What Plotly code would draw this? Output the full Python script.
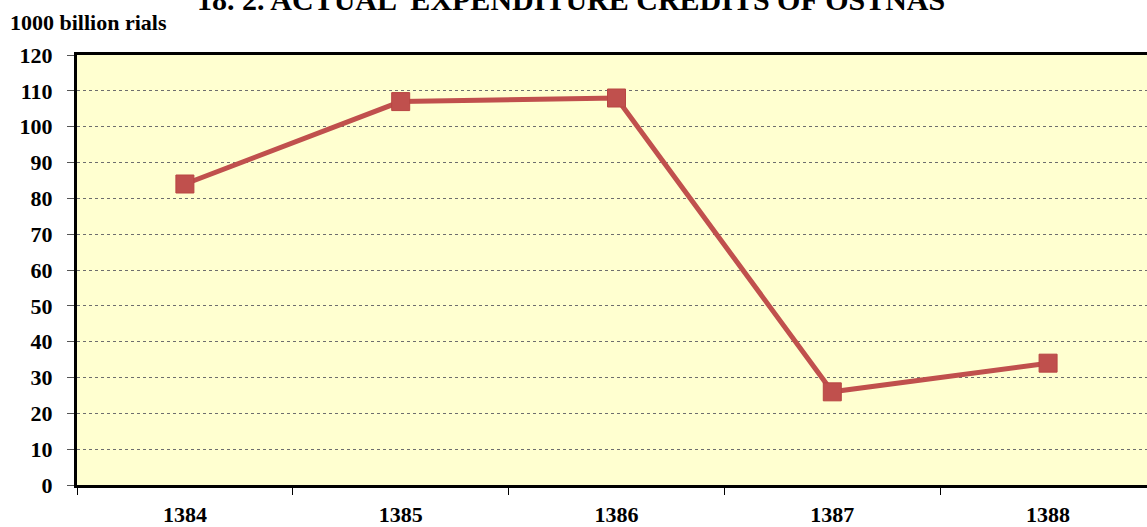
import plotly.graph_objects as go

years = ["1384", "1385", "1386", "1387", "1388"]
credits = [84, 107, 108, 26, 34]
y_ticks = list(range(0, 121, 10))

title_text = "18. 2. ACTUAL  EXPENDITURE CREDITS OF OSTNAS"
unit_text = "1000 billion rials"

serif = "Liberation Serif, Times New Roman, serif"

fig = go.Figure()
fig.add_trace(go.Scatter(
    x=years, y=credits, mode="lines+markers",
    line=dict(color="#C0504D", width=5),
    marker=dict(symbol="square", size=18, color="#C0504D",
                line=dict(color="#B84643", width=1)),
    showlegend=False, cliponaxis=False,
))

W, H = 1147, 527
ml, mt, mb = 77, 55, 40
fig.update_layout(
    width=W, height=H,
    margin=dict(l=ml, r=0, t=mt, b=mb, pad=0),
    paper_bgcolor="white",
    plot_bgcolor="#FFFFD0",
    font=dict(family=serif, color="black"),
)
fig.update_xaxes(
    type="category",
    range=[-0.5, 4.5 - 9 / 216],
    showline=True, linecolor="black", linewidth=3, mirror=True,
    ticks="outside", tickson="boundaries", ticklen=7, tickcolor="black", tickwidth=1,
    tickfont=dict(family=serif, size=22, color="black", weight="bold"),
    ticklabelstandoff=8,
    showgrid=False, zeroline=False,
)
fig.update_yaxes(
    range=[0, 120],
    tickvals=y_ticks, ticktext=[str(v) for v in y_ticks],
    showline=True, linecolor="black", linewidth=3, mirror=False,
    ticks="outside", ticklen=7, tickcolor="#555555", tickwidth=1,
    ticklabelposition="outside", ticklabelstandoff=10,
    tickfont=dict(family=serif, size=22, color="black", weight="bold"),
    showgrid=True, gridcolor="#6E6E6E", griddash="dot", gridwidth=1,
    zeroline=False,
)

plot_h = H - mt - mb
plot_w = W - ml
fig.add_annotation(
    text=title_text, xref="paper", yref="paper",
    x=(571 - ml) / plot_w, y=1 + (mt + 1) / plot_h,
    xanchor="center", yanchor="middle", showarrow=False,
    font=dict(family=serif, size=30, color="black", weight="bold"),
)
fig.add_annotation(
    text=unit_text, xref="paper", yref="paper",
    x=(8 - ml) / plot_w, y=1 + (mt - 22) / plot_h,
    xanchor="left", yanchor="middle", showarrow=False,
    font=dict(family=serif, size=22, color="black", weight="bold"),
)

fig.write_html(
    "out.html",
    config={"displayModeBar": False},
    post_script="document.body.style.margin='0';document.body.style.padding='0';document.body.style.overflow='hidden';",
)
